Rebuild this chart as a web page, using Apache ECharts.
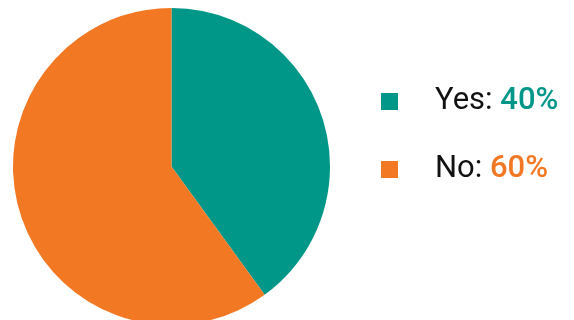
<!DOCTYPE html>
<html>
<head>
<meta charset="utf-8">
<script src="https://cdn.jsdelivr.net/npm/echarts@6/dist/echarts.min.js"></script>
<style>
  html, body { margin: 0; padding: 0; background: #fff; }
  #chart { width: 574px; height: 320px; }
</style>
</head>
<body>
<div id="chart"></div>
<script>
const labels = ['Yes', 'No']
const values = [40, 60]
const colors = ['#009688', '#F37824']

const chart = echarts.init(document.getElementById('chart'))

chart.setOption({
  animation: false,
  color: colors,
  legend: {
    orient: 'vertical',
    left: 381,
    top: 86,
    padding: 0,
    itemWidth: 17,
    itemHeight: 17,
    itemGap: 37,
    icon: 'rect',
    data: labels,
    formatter: (name) => {
      const i = labels.indexOf(name)
      return `{n|${name}: }{p${i}|${values[i]}%}`
    },
    textStyle: {
      rich: {
        n: { fontFamily: 'Roboto', fontSize: 31, lineHeight: 34, color: '#111', padding: [0, 0, 0, 32] },
        p0: { fontFamily: 'Roboto', fontSize: 31, lineHeight: 34, fontWeight: 500, color: colors[0] },
        p1: { fontFamily: 'Roboto', fontSize: 31, lineHeight: 34, fontWeight: 500, color: colors[1] }
      }
    }
  },
  series: [
    {
      type: 'pie',
      center: [171.5, 166.5],
      radius: 158.5,
      startAngle: 90,
      label: { show: false },
      labelLine: { show: false },
      silent: true,
      itemStyle: { borderWidth: 0 },
      data: labels.map((n, i) => ({ name: n, value: values[i] }))
    }
  ]
})
</script>
</body>
</html>
